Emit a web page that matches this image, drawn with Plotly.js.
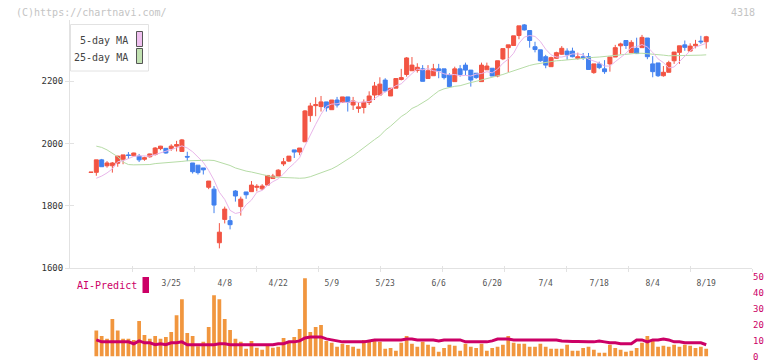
<!DOCTYPE html>
<html><head><meta charset="utf-8">
<script src="https://cdn.plot.ly/plotly-3.0.1.min.js"></script>
<style>html,body{margin:0;padding:0;background:#fff}#chart{width:772px;height:361px}</style>
</head><body><div id="chart"></div>
<script>
// ---- data (first entry of OHLC is the partially shown session before the window) ----
const open = [1906.5,
 1907,1947,1928,1928,1936,1949,1963,1960,1959,1949,
 1957,1964,1983,1984,1983,1991,1974,1958,1937,1930,
 1921,1859,1853,1681,1756,1752,1847,1797,1844,1845,
 1859,1854,1866,1887,1895,1934,1943,1979,1972,2005,
 2089,2121,2118,2133,2108,2139,2131,2149,2123,2112,
 2115,2131,2155,2155,2203,2152,2177,2205,2221,2233,
 2234,2239,2208,2217,2239,2239,2219,2198,2239,2251,
 2235,2225,2198,2236,2241,2216,2271,2307,2314,2346,
 2380,2362,2310,2300,2278,2246,2273,2286,2296,2296,
 2272,2278,2278,2227,2255,2239,2255,2277,2313,2330,
 2291,2305,2307,2338,2255,2258,2217,2228,2265,2292,
 2316,2296,2313,2328,2326];
const high = [1907.5,
 1947,1950,1943,1940,1960,1963,1972,1970,1966,1957,
 1967,1988,1992,1985,1997,2008,2014,1973,1937,1930,
 1921,1879,1863,1744,1797,1767,1850,1829,1844,1879,
 1869,1869,1898,1902,1917,1953,1959,1979,1985,2107,
 2130,2148,2152,2133,2139,2149,2149,2149,2149,2132,
 2141,2167,2197,2212,2209,2177,2208,2239,2277,2277,
 2257,2251,2251,2255,2255,2239,2225,2246,2251,2259,
 2235,2225,2259,2259,2241,2265,2304,2316,2345,2377,
 2383,2362,2326,2300,2284,2278,2294,2312,2305,2307,
 2291,2290,2290,2255,2262,2267,2277,2316,2323,2330,
 2331,2339,2348,2338,2280,2258,2248,2265,2293,2313,
 2330,2321,2332,2345,2345];
const low = [1906.5,
 1896,1925,1922,1906,1925,1933,1950,1958,1940,1944,
 1954,1961,1978,1967,1976,1974,1974,1943,1903,1900,
 1900,1853,1776,1663,1743,1724,1813,1768,1822,1845,
 1846,1850,1866,1887,1895,1927,1940,1953,1962,2005,
 2069,2087,2102,2102,2108,2115,2131,2102,2107,2098,
 2096,2123,2139,2155,2164,2152,2177,2202,2214,2233,
 2227,2199,2208,2217,2209,2205,2182,2198,2214,2219,
 2182,2207,2198,2236,2216,2212,2267,2228,2314,2334,
 2362,2307,2292,2262,2241,2246,2271,2284,2268,2276,
 2269,2268,2237,2223,2238,2223,2230,2277,2286,2303,
 2291,2288,2307,2270,2212,2213,2214,2228,2255,2255,
 2297,2296,2305,2319,2304];
const close = [1907.5,
 1947,1925,1937,1937,1959,1963,1961,1969,1947,1954,
 1966,1985,1991,1969,1991,1996,2011,1956,1909,1906,
 1915,1879,1802,1715,1789,1739,1831,1821,1835,1866,
 1862,1863,1897,1895,1914,1941,1959,1972,1985,2104,
 2120,2124,2133,2114,2139,2123,2149,2132,2136,2117,
 2132,2152,2184,2190,2168,2177,2208,2211,2274,2251,
 2244,2199,2233,2239,2233,2211,2182,2239,2221,2235,
 2203,2211,2251,2248,2216,2265,2304,2316,2345,2377,
 2364,2330,2301,2265,2251,2275,2291,2305,2284,2278,
 2278,2275,2237,2255,2243,2230,2277,2307,2319,2314,
 2324,2288,2340,2278,2230,2217,2228,2259,2293,2313,
 2308,2312,2318,2326,2342];
const ma5 = [1888,1895,1905,1918,1941, 1944,1951,1958,1960,1959, 1959,1964,1969,1973,1980,
 1986,1992,1985,1973,1956, 1939,1913,1882,1843,1820, 1785,1775,1779,1803,1818,
 1843,1849,1865,1877,1886, 1902,1921,1936,1954,1992, 2028,2061,2093,2119,2126,
 2127,2132,2131,2136,2131, 2133,2134,2144,2155,2165, 2174,2185,2191,2208,2224,
 2238,2236,2240,2233,2230, 2223,2220,2221,2217,2218, 2216,2222,2224,2230,2226,
 2238,2257,2270,2289,2321, 2341,2346,2343,2327,2302, 2284,2277,2277,2281,2287,
 2287,2284,2270,2265,2258, 2248,2248,2262,2275,2289, 2308,2310,2317,2309,2292,
 2271,2259,2242,2245,2262, 2280,2297,2309,2315,2321];
const ma25 = [1991,1987,1979,1968,1957, 1940,1932,1931,1931,1931, 1932,1935,1936,1937,1939,
 1940,1942,1944,1945,1946, 1946,1946,1945,1940,1933, 1929,1921,1915,1911,1908,
 1905,1900,1896,1892,1891, 1891,1890,1889,1888,1889, 1893,1899,1905,1911,1918,
 1927,1938,1948,1960,1973, 1987,2000,2012,2024,2042, 2055,2070,2086,2097,2112,
 2120,2130,2141,2155,2168, 2175,2180,2183,2185,2191, 2195,2199,2203,2207,2211,
 2216,2221,2227,2233,2239, 2245,2250,2254,2257,2261, 2263,2265,2266,2268,2270,
 2271,2273,2274,2276,2277, 2279,2281,2283,2285,2287, 2289,2289,2289,2288,2286,
 2285,2283,2281,2281,2281, 2281,2281,2282,2283,2284];
const volume = [16.3,12.9,11.1,23.6,16.3,11.1,11.1,10.4,22.3,13.5,
 11.1,12.9,11.1,12.3,15.4,26.0,36.0,14.8,12.9,6.5,
 9.2,18.6,38.6,36.0,23.6,16.7,11.1,9.2,4.8,9.8,
 5.5,4.2,6.7,5.5,6.1,11.7,8.6,12.3,17.3,49.2,
 15.4,18.6,19.8,9.8,8.6,6.1,8.0,7.3,6.1,4.8,
 10.4,10.4,10.4,9.3,4.8,5.4,3.6,8.6,12.9,8.0,
 6.1,9.2,7.4,6.1,3.0,5.4,7.4,6.8,3.6,8.0,
 6.1,5.4,8.0,3.6,5.4,6.1,7.4,12.9,8.6,8.0,
 8.0,6.1,6.1,8.0,6.1,4.8,4.8,4.8,7.4,3.6,
 3.6,5.4,6.1,4.2,2.3,2.3,7.4,5.4,4.2,3.0,
 3.6,5.4,8.6,12.9,9.8,6.1,6.8,6.1,7.4,6.1,
 7.4,6.8,5.4,6.1,4.8];
const aiPredict = [10.4, 9.2,9.2,9.2,9.2,9.2,9.2, 8.0, 9.8, 8.6,8.6,
 7.4,8.0,7.4,8.6,8.6,9.2, 7.4,7.4,7.4,7.4,7.4,7.4, 8.0,8.0,
 7.4,7.4,7.4,7.4,7.4,7.4,7.4,7.4,7.4,
 8.0,8.0,9.2,9.2,9.8,11.7,12.3,12.3,12.3,11.1,10.4,9.8,
 9.2,9.2,9.2,9.2,9.2, 9.8, 10.4,10.4,10.4,10.4,10.4,10.4, 11.0,11.0,
 10.4,10.4,10.4,10.4, 9.8, 10.4,10.4,10.4,10.4, 9.2,9.2,9.2,9.2,9.2, 9.8,
 11.0,11.0,11.0, 10.4,10.4,10.4,10.4,10.4,10.4,10.4,10.4,10.4, 9.8,
 9.5,9.5,9.5, 9.2,9.2,9.2, 9.8, 9.2, 8.6,8.6, 8.0,8.0,8.0,
 10.4,10.4, 9.2, 10.4,10.4, 11.0, 10.4, 9.2,9.2, 8.6,8.6,8.6,8.6, 7.4];
const tickIdx  = [14,24,34,44,54,64,74,84,94,104,114];
const tickText = ['3/25','4/8','4/22','5/9','5/23','6/6','6/20','7/4','7/18','8/4','8/19'];
const priceTicks = [1600,1800,2000,2200];
const volTicks = [0,10,20,30,40,50];

// ---- geometry helpers ----
const W = 772, H = 361, ML = 70, MR = 20, PW = W - ML - MR;
const px = x => (x - ML) / PW;
const py = y => 1 - y / H;
const mono = 'DejaVu Sans Mono, Liberation Mono, monospace';
const candleX = open.map((_, k) => k - 1);
const dayX = volume.map((_, k) => k);
const xRange = [-4.92, 122.56];
const yRange = [1600, 2395.8];
const RED = '#f25443', BLUE = '#4281ef';
const GRID = '#e2e2e2';
const CRIMSON = '#cc0066';

const traces = [
  {type:'scatter', mode:'lines', x:dayX, y:ma25, line:{color:'#b6dca6', width:1}, hoverinfo:'skip'},
  {type:'scatter', mode:'lines', x:dayX, y:ma5, line:{color:'#e9b6ea', width:1}, hoverinfo:'skip'},
  {type:'candlestick', x:candleX, open:open, high:high, low:low, close:close,
   increasing:{line:{color:RED, width:1}, fillcolor:RED},
   decreasing:{line:{color:BLUE, width:1}, fillcolor:BLUE},
   whiskerwidth:0, hoverinfo:'skip'},
  {type:'bar', x:dayX, y:volume, xaxis:'x4', yaxis:'y2', marker:{color:'#f1963e'}, hoverinfo:'skip'},
  {type:'scatter', mode:'lines', x:dayX, y:aiPredict, xaxis:'x4', yaxis:'y2',
   line:{color:CRIMSON, width:3}, hoverinfo:'skip'},
  {type:'scatter', x:[], y:[], xaxis:'x2', yaxis:'y'},
  {type:'scatter', x:[], y:[], xaxis:'x3', yaxis:'y'},
  {type:'scatter', x:[], y:[], xaxis:'x', yaxis:'y3'}
];

const gridTicks = [1,2,3,4,5,6,7,8,9,10,11];
const layout = {
  width: W, height: H,
  margin: {l: ML, r: MR, t: 0, b: 0},
  paper_bgcolor: '#fff', plot_bgcolor: '#fff',
  showlegend: false,
  boxgap: 0.25, boxgroupgap: 0, bargap: 0.3,
  font: {family: mono},
  xaxis: {domain:[0,1], anchor:'y', range:xRange, showline:true, linecolor:GRID, linewidth:1,
    showgrid:false, zeroline:false, tickmode:'array', tickvals:tickIdx, ticktext:tickText,
    ticks:'outside', ticklen:7, tickcolor:'rgba(0,0,0,0)',
    tickfont:{family:mono, size:8, color:'#555'}, rangeslider:{visible:false}, fixedrange:true},
  xaxis2: {overlaying:'x', anchor:'y', range:[0,11], tickmode:'array', tickvals:gridTicks,
    ticks:'outside', ticklen:3, tickcolor:GRID, showticklabels:false, showgrid:false,
    zeroline:false, showline:false},
  xaxis3: {overlaying:'x', anchor:'y', range:[0,11], tickmode:'array', tickvals:gridTicks,
    ticks:'inside', ticklen:2, tickcolor:GRID, showticklabels:false, showgrid:false,
    zeroline:false, showline:false},
  xaxis4: {domain:[0,1], anchor:'y2', range:xRange, visible:false, fixedrange:true},
  yaxis: {domain:[py(268), py(20)], anchor:'x', range:yRange, tickmode:'array', tickvals:priceTicks,
    ticks:'outside', ticklen:4, tickcolor:GRID, showline:true, linecolor:GRID, linewidth:1,
    showgrid:false, zeroline:false, tickfont:{family:mono, size:9, color:'#333'}, fixedrange:true},
  yaxis3: {overlaying:'y', anchor:'x', range:yRange, tickmode:'array', tickvals:priceTicks,
    ticks:'inside', ticklen:4, tickcolor:GRID, showticklabels:false, showgrid:false,
    showline:false, zeroline:false},
  yaxis2: {domain:[py(356.5), py(277)], anchor:'x4', side:'right', range:[0,50], tickmode:'array',
    tickvals:volTicks, ticks:'', showline:false, showgrid:false, zeroline:false,
    ticklabeloverflow:'allow',
    tickfont:{family:mono, size:9, color:CRIMSON}, fixedrange:true},
  shapes: [
    {type:'rect', xref:'paper', yref:'paper', x0:px(70.5), x1:px(148.5), y0:py(71), y1:py(24.5),
     line:{color:GRID, width:1}, fillcolor:'#fff', layer:'above'},
    {type:'rect', xref:'paper', yref:'paper', x0:px(136.5), x1:px(142.5), y0:py(46.5), y1:py(31.5),
     line:{color:'#555', width:1}, fillcolor:'#efc0ef', layer:'above'},
    {type:'rect', xref:'paper', yref:'paper', x0:px(136.5), x1:px(142.5), y0:py(63.5), y1:py(48.5),
     line:{color:'#555', width:1}, fillcolor:'#c2e2b2', layer:'above'},
    {type:'rect', xref:'paper', yref:'paper', x0:px(142.5), x1:px(149), y0:py(293), y1:py(277),
     line:{width:0}, fillcolor:CRIMSON, layer:'above'}
  ],
  annotations: [
    {xref:'paper', yref:'paper', x:px(14), y:py(12.5), xanchor:'left', yanchor:'middle',
     text:'(C)https://chartnavi.com/', showarrow:false, font:{family:mono, size:10, color:'#c4c4c4'}},
    {xref:'paper', yref:'paper', x:px(757), y:py(12.5), xanchor:'right', yanchor:'middle',
     text:'4318', showarrow:false, font:{family:mono, size:10, color:'#c4c4c4'}},
    {xref:'paper', yref:'paper', x:px(130), y:py(40), xanchor:'right', yanchor:'middle',
     text:'5-day MA', showarrow:false, font:{family:mono, size:10, color:'#444'}},
    {xref:'paper', yref:'paper', x:px(130), y:py(57), xanchor:'right', yanchor:'middle',
     text:'25-day MA', showarrow:false, font:{family:mono, size:10, color:'#444'}},
    {xref:'paper', yref:'paper', x:px(75), y:py(285.5), xanchor:'left', yanchor:'middle',
     text:'AI-Predict', showarrow:false, font:{family:mono, size:10, color:CRIMSON}}
  ]
};

Plotly.newPlot('chart', traces, layout, {displayModeBar:false, staticPlot:true});
</script>
</body></html>
